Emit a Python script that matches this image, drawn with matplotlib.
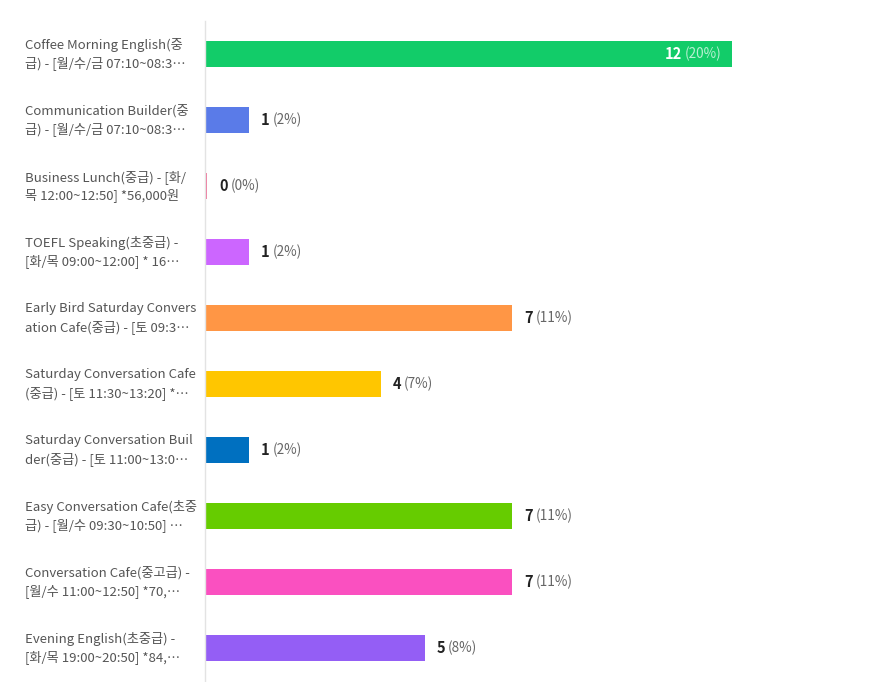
import matplotlib
matplotlib.use("Agg")
import matplotlib.pyplot as plt
from matplotlib import transforms

plt.rcParams['font.family'] = ['Noto Sans CJK KR', 'DejaVu Sans']

# 항목 이름 (두 줄로 잘린 그대로)
labels = [
    "Coffee Morning English(중\n급) - [월/수/금 07:10~08:3…",
    "Communication Builder(중\n급) - [월/수/금 07:10~08:3…",
    "Business Lunch(중급) - [화/\n목 12:00~12:50] *56,000원",
    "TOEFL Speaking(초중급) -\n[화/목 09:00~12:00] * 16…",
    "Early Bird Saturday Convers\nation Cafe(중급) - [토 09:3…",
    "Saturday Conversation Cafe\n(중급) - [토 11:30~13:20] *…",
    "Saturday Conversation Buil\nder(중급) - [토 11:00~13:0…",
    "Easy Conversation Cafe(초중\n급) - [월/수 09:30~10:50] …",
    "Conversation Cafe(중고급) -\n[월/수 11:00~12:50] *70,…",
    "Evening English(초중급) -\n[화/목 19:00~20:50] *84,…",
]
counts = [12, 1, 0, 1, 7, 4, 1, 7, 7, 5]
percents = [20, 2, 0, 2, 11, 7, 2, 11, 11, 8]
colors = ["#12cc69", "#5a7be8", "#f0729a", "#cc66ff", "#ff9645",
          "#ffc600", "#0070c0", "#66cc00", "#fa50c0", "#945ef5"]

W, H = 873, 682
fig = plt.figure(figsize=(W / 100, H / 100), dpi=100)
ax = fig.add_axes([205 / W, 1 - 681 / H, (W - 205) / W, 660 / H])

y = list(range(len(counts)))
shown = [c if c > 0 else 0.05 for c in counts]  # 0인 항목은 얇은 선으로
ax.barh(y, shown, height=0.4, color=colors)
ax.set_ylim(len(counts) - 0.5, -0.5)
ax.set_xlim(0, (W - 205) / 43.9)
for s in ["top", "right", "bottom"]:
    ax.spines[s].set_visible(False)
ax.spines["left"].set_color("#e3e3e3")
ax.spines["left"].set_linewidth(1)
ax.set_xticks([])
ax.set_yticks([])

# 왼쪽 라벨
tr = transforms.blended_transform_factory(fig.transFigure, ax.transData)
for i, lab in enumerate(labels):
    ax.text(25 / W, i, lab, transform=tr, ha="left", va="center",
            fontsize=9.5, color="#555555", linespacing=1.38)

# 값 라벨
fig.canvas.draw()
rend = fig.canvas.get_renderer()
vmax = max(counts)
for i, (c, p) in enumerate(zip(counts, percents)):
    if c == vmax:
        off = transforms.offset_copy(ax.transData, fig=fig, x=-10, y=0, units="dots")
        t2 = ax.text(c, i, f"({p}%)", transform=off, ha="right", va="center",
                     fontsize=9.8, color="#ffffff", alpha=0.7)
        w2 = t2.get_window_extent(rend).width
        off1 = transforms.offset_copy(ax.transData, fig=fig, x=-10 - w2 - 3, y=0, units="dots")
        ax.text(c, i, str(c), transform=off1, ha="right", va="center",
                fontsize=10.5, fontweight="bold", color="#ffffff")
    else:
        off = transforms.offset_copy(ax.transData, fig=fig, x=12, y=0, units="dots")
        t1 = ax.text(shown[i], i, str(c), transform=off, ha="left", va="center",
                     fontsize=10.5, fontweight="bold", color="#222222")
        w1 = t1.get_window_extent(rend).width
        off2 = transforms.offset_copy(ax.transData, fig=fig, x=12 + w1 + 3, y=0, units="dots")
        ax.text(shown[i], i, f"({p}%)", transform=off2, ha="left", va="center",
                fontsize=9.8, color="#666666")

fig.savefig("out.png", dpi=100, facecolor="white")
